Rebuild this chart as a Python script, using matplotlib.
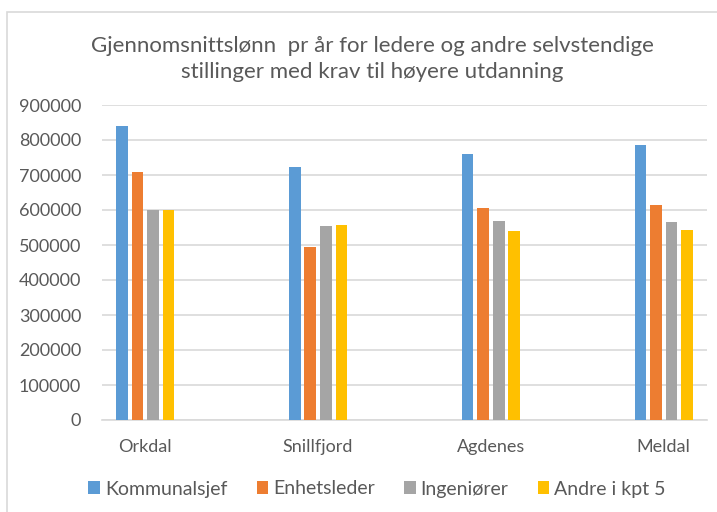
import numpy as np
import matplotlib
matplotlib.use("Agg")
import matplotlib.pyplot as plt
import matplotlib.patches as mpatches

# data
kommuner = ["Orkdal", "Snillfjord", "Agdenes", "Meldal"]
serier = ["Kommunalsjef", "Enhetsleder", "Ingeniører", "Andre i kpt 5"]
kommunalsjef = [840000, 723000, 759000, 786000]
enhetsleder = [709000, 493000, 605000, 614000]
ingeniorer = [600000, 554000, 569000, 565000]
andre_kpt5 = [601000, 557000, 540000, 543000]
yticks = [0, 100000, 200000, 300000, 400000, 500000, 600000, 700000, 800000, 900000]

farger = ["#5B9BD5", "#ED7D31", "#A5A5A5", "#FFC000"]
tekst = "#595959"
FONT = ["Lato", "DejaVu Sans"]

plt.rcParams["font.family"] = FONT

W, H = 717, 512
fig = plt.figure(figsize=(W / 100, H / 100), dpi=100)

# chart frame (cut off at right/bottom like the screenshot)
fig.patches.append(mpatches.Rectangle((7 / W, -0.05), 1.2, 1 - 12 / H + 0.05,
                                      transform=fig.transFigure, fill=False,
                                      edgecolor="#D9D9D9", linewidth=1.2))

ax = fig.add_axes([102 / W, 1 - 420 / H, (707 - 102) / W, (420 - 105) / H])

x = np.arange(len(kommuner))
bw = 0.068
step = 0.09
for i, (navn, vals) in enumerate(zip(serier, [kommunalsjef, enhetsleder, ingeniorer, andre_kpt5])):
    ax.bar(x + (i - 1.5) * step, vals, width=bw, color=farger[i], label=navn, zorder=3)

ax.set_xlim(-0.25, 3.25)
ax.set_ylim(0, 900000)
ax.set_yticks(yticks)
ax.set_yticklabels([str(v) for v in yticks])
ax.set_xticks(x)
ax.set_xticklabels(kommuner)
ax.yaxis.grid(True, color="#D9D9D9", linewidth=1.2, zorder=0)
for s in ["top", "right", "left"]:
    ax.spines[s].set_visible(False)
ax.spines["bottom"].set_color("#D9D9D9")
ax.spines["bottom"].set_linewidth(1.2)
ax.tick_params(axis="both", length=0, labelsize=13, colors=tekst)
ax.tick_params(axis="y", pad=15)
ax.tick_params(axis="x", pad=14)

fig.text(372 / W, 1 - 59 / H,
         "Gjennomsnittslønn  pr år for ledere og andre selvstendige\nstillinger med krav til høyere utdanning",
         ha="center", va="center", fontsize=16, color=tekst, linespacing=1.35)

fig.legend(loc="center", bbox_to_anchor=(377 / W, 1 - 489 / H), ncol=4, frameon=False,
           fontsize=14, labelcolor=tekst, handlelength=0.6, handleheight=0.6,
           handletextpad=0.25, columnspacing=1.5)

fig.savefig("out.png", dpi=100)
